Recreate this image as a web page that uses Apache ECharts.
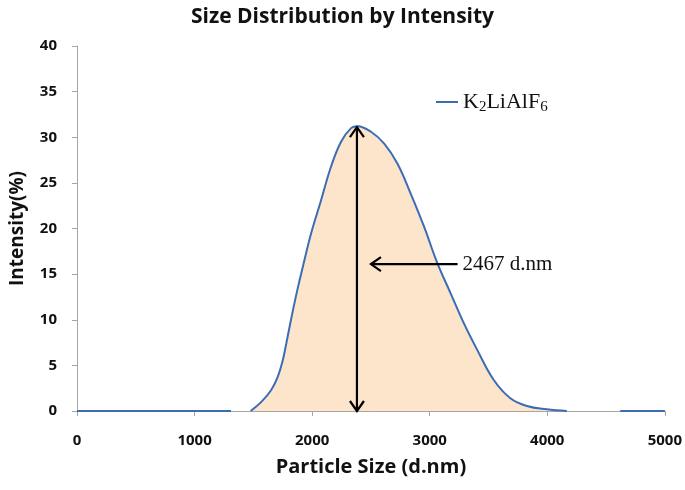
<!DOCTYPE html>
<html>
<head>
<meta charset="utf-8">
<script src="https://cdn.jsdelivr.net/npm/echarts@6/dist/echarts.min.js"></script>
<style>html,body{margin:0;padding:0;background:#fff}#c{width:685px;height:490px}</style>
</head>
<body>
<div id="c"></div>
<script>
// Particle size (d.nm) and intensity (%)
var sizes = [1477, 1568, 1652, 1709, 1751, 1780, 1836, 1880, 1921, 1992, 2076, 2161, 2246, 2331, 2385, 2500, 2613, 2726, 2839, 2952, 3065, 3178, 3291, 3404, 3545, 3686, 3827, 3996, 4166];
var intensity = [0, 1.0, 2.3, 3.8, 5.6, 7.4, 11.0, 13.6, 15.8, 19.5, 23.1, 26.8, 29.5, 31.0, 31.2, 30.6, 29.3, 27.1, 23.8, 20.2, 16.2, 12.9, 9.6, 6.7, 3.4, 1.4, 0.55, 0.18, 0];
// flat zero baseline segments drawn by the series
var baseLeftX = [0, 1310];
var baseRightX = [4620, 5000];
// axis ticks
var xTicks = [0, 1000, 2000, 3000, 4000, 5000];
var yTicks = [0, 5, 10, 15, 20, 25, 30, 35, 40];
// annotation arrows: [x1, y1, x2, y2, headAtStart, headAtEnd]
var arrows = [
  [2381, 31.1, 2381, 0, 1, 1],
  [3237, 16.1, 2500, 16.1, 0, 1]
];
var peakLabel = '2467 d.nm';
var seriesName = 'K2LiAlF6';

var chart = echarts.init(document.getElementById('c'));
var lineColor = '#3b6db5';
var curveData = sizes.map(function (s, i) { return [s, intensity[i]]; });

option = {
  animation: false,
  title: {
    text: 'Size Distribution by Intensity',
    left: 'center',
    top: 2,
    textStyle: { fontFamily: 'Open Sans', fontWeight: 'bold', fontSize: 21, color: '#111' }
  },
  legend: {
    data: [seriesName],
    left: 431,
    top: 86,
    icon: 'rect',
    itemWidth: 22,
    itemHeight: 2,
    itemGap: 8,
    formatter: function () { return '{n|K}{s|2}{n|LiAlF}{s|6}'; },
    textStyle: {
      fontFamily: 'Liberation Serif', fontSize: 22, color: '#111',
      rich: {
        n: { fontFamily: 'Liberation Serif', fontSize: 22, color: '#111' },
        s: { fontFamily: 'Liberation Serif', fontSize: 15, color: '#111', padding: [10, 0, 0, 0] }
      }
    }
  },
  grid: { left: 75, right: 20, top: 46, bottom: 79 },
  xAxis: {
    type: 'value', min: xTicks[0], max: xTicks[xTicks.length - 1], interval: 1000,
    name: 'Particle Size (d.nm)', nameLocation: 'middle', nameGap: 46,
    nameTextStyle: { fontFamily: 'Open Sans', fontWeight: 'bold', fontSize: 20, color: '#111' },
    axisLine: { lineStyle: { color: '#a6a6a6', width: 1 } },
    axisTick: { show: true, length: 5, lineStyle: { color: '#a6a6a6' } },
    axisLabel: { margin: 22, fontFamily: 'Open Sans', fontWeight: 'bold', fontSize: 15, color: '#111',
      formatter: function (v) { return String(v); } },
    splitLine: { show: false }
  },
  yAxis: {
    type: 'value', min: yTicks[0], max: yTicks[yTicks.length - 1], interval: 5,
    name: 'Intensity(%)', nameLocation: 'middle', nameGap: 50,
    nameTextStyle: { fontFamily: 'Open Sans', fontWeight: 'bold', fontSize: 19, color: '#111' },
    axisLine: { show: true, lineStyle: { color: '#a6a6a6', width: 1 } },
    axisTick: { show: true, length: 5, lineStyle: { color: '#a6a6a6' } },
    axisLabel: { margin: 20, fontFamily: 'Open Sans', fontWeight: 'bold', fontSize: 15, color: '#111' },
    splitLine: { show: false }
  },
  series: [
    {
      name: seriesName, type: 'line', data: curveData, smooth: 0.4,
      showSymbol: false, lineStyle: { color: lineColor, width: 2 },
      itemStyle: { color: lineColor },
      areaStyle: { color: '#fde5cc', opacity: 1 }, z: 2
    },
    {
      name: seriesName, type: 'line', data: baseLeftX.map(function (x) { return [x, 0]; }),
      showSymbol: false, lineStyle: { color: lineColor, width: 2 }, itemStyle: { color: lineColor }, z: 3
    },
    {
      name: seriesName, type: 'line', data: baseRightX.map(function (x) { return [x, 0]; }),
      showSymbol: false, lineStyle: { color: lineColor, width: 2 }, itemStyle: { color: lineColor }, z: 3
    },
    {
      type: 'custom', z: 5, silent: true,
      data: arrows,
      renderItem: function (params, api) {
        var p1 = api.coord([api.value(0), api.value(1)]);
        var p2 = api.coord([api.value(2), api.value(3)]);
        var dx = p2[0] - p1[0], dy = p2[1] - p1[1];
        var len = Math.sqrt(dx * dx + dy * dy);
        var ux = dx / len, uy = dy / len;
        var px = -uy, py = ux;
        var L = 10, W = 7;
        var style = { stroke: '#000', lineWidth: 2.2, fill: null };
        var children = [{ type: 'line', shape: { x1: p1[0], y1: p1[1], x2: p2[0], y2: p2[1] }, style: style }];
        function head(tip, sx, sy) {
          children.push({ type: 'polyline', shape: { points: [
            [tip[0] + sx * L + px * W, tip[1] + sy * L + py * W],
            tip,
            [tip[0] + sx * L - px * W, tip[1] + sy * L - py * W]
          ] }, style: style });
        }
        if (api.value(4)) head(p1, ux, uy);
        if (api.value(5)) head(p2, -ux, -uy);
        if (params.dataIndex === 1) {
          children.push({ type: 'text', style: { text: peakLabel, x: p1[0] + 5, y: p1[1], verticalAlign: 'middle',
            fontFamily: 'Liberation Serif', fontSize: 21, fill: '#111' } });
        }
        return { type: 'group', children: children };
      }
    }
  ]
};
chart.setOption(option);
</script>
</body>
</html>
